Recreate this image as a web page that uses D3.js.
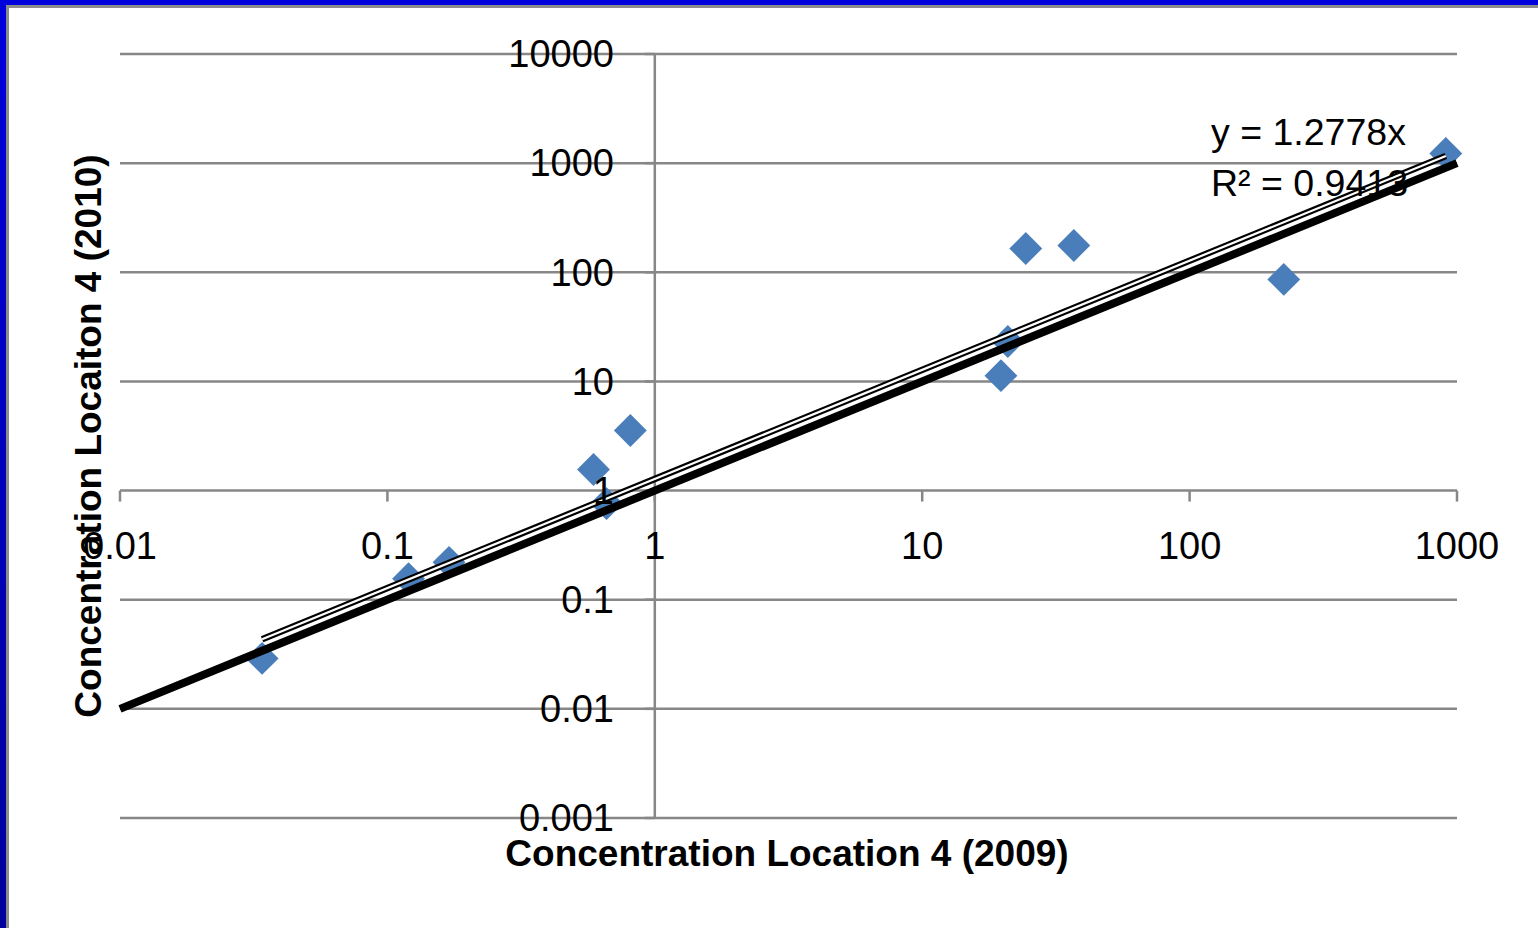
<!DOCTYPE html>
<html>
<head>
<meta charset="utf-8">
<script src="https://cdn.jsdelivr.net/npm/d3@7"></script>
<style>
  body { margin: 0; background: #fff; }
  text { font-family: "Liberation Sans", Arial, sans-serif; }
</style>
</head>
<body>
<div id="chart"></div>
<script>
// ---- data ----
var conc2009 = [0.034, 0.12, 0.17, 0.59, 0.66, 0.81, 19.7, 20.9, 24.4, 36.9, 225, 908]
var conc2010 = [0.029, 0.156, 0.22, 1.56, 0.76, 3.55, 11.3, 23.2, 165, 176, 86, 1225]

var xTicks = [0.01, 0.1, 1, 10, 100, 1000]
var xTickLabels = ["0.01", "0.1", "1", "10", "100", "1000"]
var yTicks = [0.001, 0.01, 0.1, 1, 10, 100, 1000, 10000]
var yTickLabels = ["0.001", "0.01", "0.1", "1", "10", "100", "1000", "10000"]

var slope = 1.2778
var eqText = "y = 1.2778x"
var r2Text = "R² = 0.9413"

// ---- layout ----
var svg_width = 1538
var svg_height = 928
const plot = { left: 120, right: 1457, top: 54, bottom: 818 }

const svg = d3.select("#chart").append("svg")
    .attr("width", svg_width)
    .attr("height", svg_height)

// frame (blue top + left with grey inner edge)
const defs = svg.append("defs")
const grad = defs.append("linearGradient").attr("id", "leftBlue")
    .attr("x1", 0).attr("y1", 0).attr("x2", 0).attr("y2", 1)
grad.append("stop").attr("offset", "0%").attr("stop-color", "#0000dc")
grad.append("stop").attr("offset", "100%").attr("stop-color", "#00009c")

svg.append("rect").attr("x", 0).attr("y", 0).attr("width", svg_width).attr("height", 5).attr("fill", "#0000dc")
svg.append("rect").attr("x", 0).attr("y", 0).attr("width", 6).attr("height", svg_height).attr("fill", "url(#leftBlue)")
svg.append("rect").attr("x", 6).attr("y", 5).attr("width", svg_width - 6).attr("height", 3).attr("fill", "#8c8c8c")
svg.append("rect").attr("x", 6).attr("y", 5).attr("width", 3).attr("height", svg_height - 5).attr("fill", "#8c8c8c")

// ---- scales ----
const x = d3.scaleLog().domain([0.01, 1000]).range([plot.left, plot.right])
const y = d3.scaleLog().domain([0.001, 10000]).range([plot.bottom, plot.top])

const grey = "#878787"

// horizontal gridlines
svg.append("g").selectAll("line")
  .data(yTicks)
  .join("line")
    .attr("x1", plot.left).attr("x2", plot.right)
    .attr("y1", d => y(d)).attr("y2", d => y(d))
    .attr("stroke", grey).attr("stroke-width", 2.5)

// vertical axis at x = 1
svg.append("line")
    .attr("x1", x(1)).attr("x2", x(1))
    .attr("y1", plot.top).attr("y2", plot.bottom)
    .attr("stroke", grey).attr("stroke-width", 2.5)

// y ticks (left of vertical axis)
svg.append("g").selectAll("line")
  .data(yTicks)
  .join("line")
    .attr("x1", x(1) - 10).attr("x2", x(1))
    .attr("y1", d => y(d)).attr("y2", d => y(d))
    .attr("stroke", grey).attr("stroke-width", 2.5)

// x ticks (below horizontal axis at y = 1)
svg.append("g").selectAll("line")
  .data(xTicks)
  .join("line")
    .attr("x1", d => x(d)).attr("x2", d => x(d))
    .attr("y1", y(1)).attr("y2", y(1) + 11)
    .attr("stroke", grey).attr("stroke-width", 2.5)

// axis titles
svg.append("text")
    .attr("x", 787).attr("y", 866)
    .attr("text-anchor", "middle")
    .attr("font-size", 37).attr("font-weight", "bold")
    .text("Concentration Location 4 (2009)")

svg.append("text")
    .attr("transform", "translate(101, 436) rotate(-90)")
    .attr("text-anchor", "middle")
    .attr("font-size", 37).attr("font-weight", "bold")
    .text("Concentration Locaiton 4 (2010)")

// markers
const diamond = d3.symbol().type(d3.symbolSquare).size(540)
svg.append("g").selectAll("path")
  .data(conc2009.map((d, i) => [d, conc2010[i]]))
  .join("path")
    .attr("d", diamond)
    .attr("transform", d => `translate(${x(d[0])}, ${y(d[1])}) rotate(45)`)
    .attr("fill", "#4a7ebb")

// 1:1 line
const line = d3.line().x(d => x(d[0])).y(d => y(d[1]))
svg.append("path")
    .attr("d", line([[0.01, 0.01], [1000, 1000]]))
    .attr("stroke", "#000").attr("stroke-width", 8).attr("fill", "none")

// trendline (double line)
const xmin = d3.min(conc2009), xmax = d3.max(conc2009)
const trend = [[xmin, slope * xmin], [xmax, slope * xmax]]
svg.append("path")
    .attr("d", line(trend))
    .attr("stroke", "#000").attr("stroke-width", 6.5).attr("fill", "none")
svg.append("path")
    .attr("d", line(trend))
    .attr("stroke", "#fff").attr("stroke-width", 2.2).attr("fill", "none")

// tick labels
svg.append("g").selectAll("text")
  .data(yTicks)
  .join("text")
    .attr("x", 614).attr("y", d => y(d))
    .attr("dy", "0.35em")
    .attr("text-anchor", "end")
    .attr("font-size", 38)
    .text((d, i) => yTickLabels[i])

svg.append("g").selectAll("text")
  .data(xTicks)
  .join("text")
    .attr("x", d => x(d)).attr("y", 559)
    .attr("text-anchor", "middle")
    .attr("font-size", 38)
    .text((d, i) => xTickLabels[i])

// trendline label
svg.append("text").attr("x", 1211).attr("y", 145).attr("font-size", 37.5).text(eqText)
svg.append("text").attr("x", 1211).attr("y", 196).attr("font-size", 37.5).text(r2Text)
</script>
</body>
</html>
